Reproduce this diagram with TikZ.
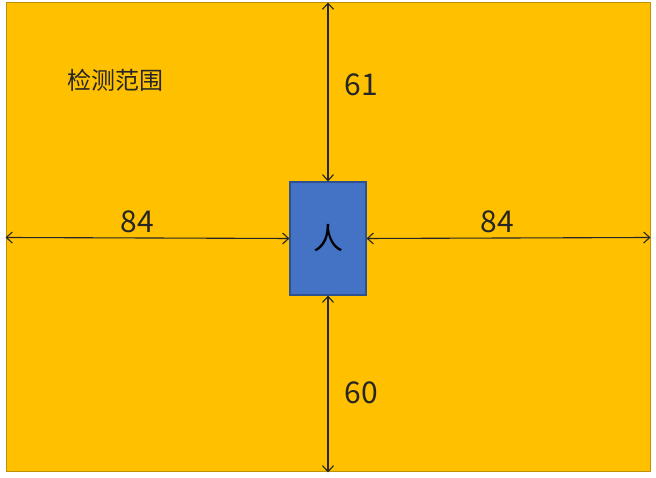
\documentclass[tikz,border=0pt]{standalone}
\usepackage{fontspec}
\setmainfont{Noto Sans CJK SC}
\usetikzlibrary{positioning, arrows.meta}

\definecolor{rangegold}{HTML}{FFC000}
\definecolor{rangeedge}{HTML}{BF9000}
\definecolor{personblue}{HTML}{4472C4}
\definecolor{personedge}{HTML}{2F528F}
\definecolor{inkgray}{HTML}{262626}

\begin{document}
\begin{tikzpicture}[
    x=1pt, y=1pt,
    area/.style={
        rectangle,
        draw=rangeedge,
        fill=rangegold,
        line width=1pt,
        minimum width=644pt,
        minimum height=469pt,
        inner sep=0pt
    },
    person/.style={
        rectangle,
        draw=personedge,
        fill=personblue,
        line width=1.2pt,
        minimum width=76pt,
        minimum height=113pt,
        inner sep=0pt,
        font=\fontsize{30}{36}\selectfont
    },
    dim/.style={{Straight Barb[length=6pt, width=11pt]}-{Straight Barb[length=6pt, width=11pt]}, line width=1.1pt, draw=inkgray},
    num/.style={font=\fontsize{30}{36}\selectfont, text=inkgray, inner sep=0pt},
    title/.style={font=\fontsize{24}{28}\selectfont, text=inkgray, inner sep=0pt}
]
\useasboundingbox (0, 0) rectangle (656, 478);

% Detection range
\node[area] (range) at (328, 240.5) {};
\node[title] (rangename) at (115, 398) {检测范围};

% Person
\node[person] (man) at (328, 239.5) {人};

% Distances
\draw[dim] (man.north) -- (range.north);
\draw[dim] (man.south) -- (range.south);
\draw[dim] (man.west) -- (range.west);
\draw[dim] (man.east) -- (range.east);

% Distance values
\node[num] (top) at (361, 393) {61};
\node[num] (bottom) at (361, 85) {60};
\node[num] (left) at (137.5, 256) {84};
\node[num] (right) at (497.5, 256) {84};

\end{tikzpicture}
\end{document}
